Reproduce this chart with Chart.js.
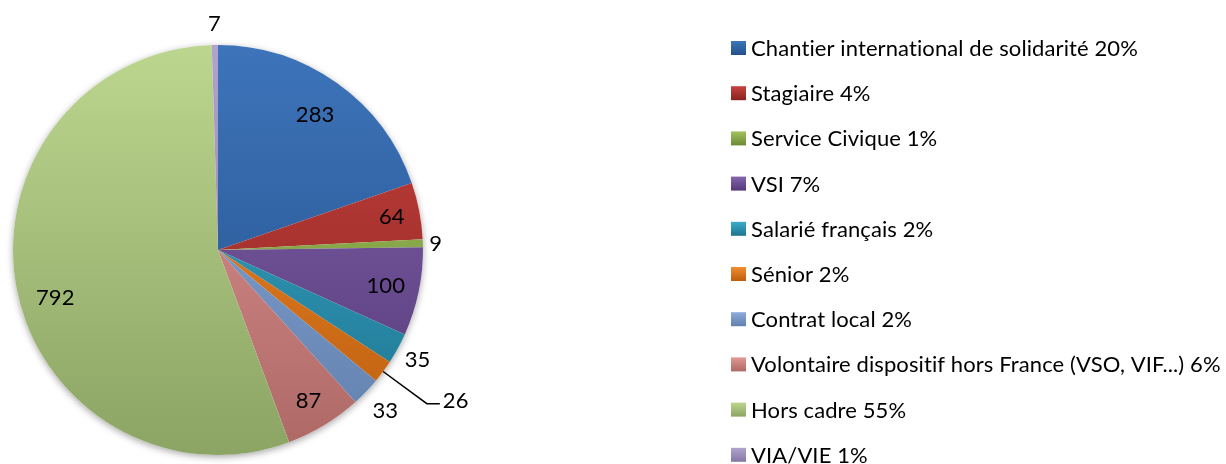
<!DOCTYPE html>
<html>
<head>
<meta charset="utf-8">
<script src="https://cdn.jsdelivr.net/npm/chart.js@4/dist/chart.umd.min.js"></script>
<style>
  html, body { margin: 0; padding: 0; background: #fff; }
  #wrap { position: relative; width: 1226px; height: 464px; }
</style>
</head>
<body>
<div id="wrap"><canvas id="pie" width="1226" height="464"></canvas></div>
<script>
  // Données
  const categories = [
    'Chantier international de solidarité',
    'Stagiaire',
    'Service Civique',
    'VSI',
    'Salarié français',
    'Sénior',
    'Contrat local',
    'Volontaire dispositif hors France (VSO, VIF...)',
    'Hors cadre',
    'VIA/VIE'
  ];
  const counts = [283, 64, 9, 100, 35, 26, 33, 87, 792, 7];
  const shares = ['20%', '4%', '1%', '7%', '2%', '2%', '2%', '6%', '55%', '1%'];

  // Couleurs (haut -> bas du dégradé)
  const colorTop = ['#3d74ba', '#c9423e', '#a2c35e', '#8466ad', '#3aaccb', '#f28d31', '#8fabdc', '#e39895', '#bcd68f', '#b0a4cf'];
  const colorBottom = ['#24508a', '#86231f', '#6c8a33', '#533878', '#1e7490', '#bd5d0c', '#6080ad', '#ad6866', '#8ca464', '#8776a6'];

  // Placement des étiquettes (fraction du rayon), 26 avec ligne de rappel
  const labelRadius = [0.816, 0.864, 1.063, 0.836, 1.11, 1.0, 1.13, 0.853, 0.826, 1.107];
  const labelNudge = [0, 0, 0, 0, 0, 0, 0, 0, -5, 0];
  const leaderIndex = 5;

  const FONT = '22px Lato, "Open Sans", sans-serif';
  const gradCache = {};

  function sliceColor(ctx) {
    const chart = ctx.chart;
    const area = chart.chartArea;
    const i = ctx.dataIndex;
    if (!area) return colorTop[i];
    const key = i + ':' + area.top + ':' + area.bottom;
    if (!gradCache[key]) {
      const g = chart.ctx.createLinearGradient(0, area.top, 0, area.bottom);
      g.addColorStop(0, colorTop[i]);
      g.addColorStop(1, colorBottom[i]);
      gradCache[key] = g;
    }
    return gradCache[key];
  }

  // petit espacement : évite les ligatures de Lato ("ti", "fi")
  function setFont(c) {
    c.font = FONT;
    if ('letterSpacing' in c) c.letterSpacing = '0.1px';
  }

  const shadowPlugin = {
    id: 'pieShadow',
    beforeDatasetsDraw(chart) {
      const arc = chart.getDatasetMeta(0).data[0];
      if (!arc) return;
      const c = chart.ctx;
      c.save();
      c.shadowColor = 'rgba(0,0,0,0.35)';
      c.shadowBlur = 7;
      c.shadowOffsetY = 2;
      c.fillStyle = '#fff';
      c.beginPath();
      c.arc(arc.x, arc.y, arc.outerRadius, 0, Math.PI * 2);
      c.fill();
      c.restore();
    }
  };

  const labelPlugin = {
    id: 'pieLabels',
    afterDatasetsDraw(chart) {
      const c = chart.ctx;
      const arcs = chart.getDatasetMeta(0).data;
      c.save();
      setFont(c);
      c.fillStyle = '#000';
      c.textBaseline = 'alphabetic';
      arcs.forEach((arc, i) => {
        const mid = (arc.startAngle + arc.endAngle) / 2 + labelNudge[i] * Math.PI / 180;
        const R = arc.outerRadius;
        if (i === leaderIndex) {
          const x0 = arc.x + Math.cos(mid) * R;
          const y0 = arc.y + Math.sin(mid) * R;
          const x1 = arc.x + Math.cos(mid) * R * 1.265;
          const y1 = arc.y + Math.sin(mid) * R * 1.265;
          c.strokeStyle = '#000';
          c.lineWidth = 1.5;
          c.beginPath();
          c.moveTo(x0, y0);
          c.lineTo(x1, y1);
          c.lineTo(x1 + 13, y1);
          c.stroke();
          c.textAlign = 'left';
          c.fillText(String(counts[i]), x1 + 16, y1 + 4);
          return;
        }
        const x = arc.x + Math.cos(mid) * R * labelRadius[i];
        const y = arc.y + Math.sin(mid) * R * labelRadius[i];
        c.textAlign = 'center';
        c.fillText(String(counts[i]), x, y + 8);
      });
      c.restore();
    }
  };

  const legendPlugin = {
    id: 'sideLegend',
    afterDraw(chart) {
      const c = chart.ctx;
      c.save();
      setFont(c);
      c.textAlign = 'left';
      c.textBaseline = 'alphabetic';
      categories.forEach((name, i) => {
        const cy = 48 + i * 45.2;
        const g = c.createLinearGradient(0, cy - 7, 0, cy + 7);
        g.addColorStop(0, colorTop[i]);
        g.addColorStop(1, colorBottom[i]);
        c.fillStyle = g;
        c.fillRect(731, cy - 7, 15, 14);
        c.fillStyle = '#000';
        c.fillText(name + ' ' + shares[i], 751, cy + 8);
      });
      c.restore();
    }
  };

  new Chart(document.getElementById('pie'), {
    type: 'pie',
    data: {
      labels: categories,
      datasets: [{
        data: counts,
        backgroundColor: sliceColor,
        borderWidth: 0
      }]
    },
    options: {
      responsive: false,
      animation: false,
      events: [],
      layout: { padding: { left: 13, top: 45, right: 803, bottom: 9 } },
      plugins: {
        legend: { display: false },
        tooltip: { enabled: false }
      }
    },
    plugins: [shadowPlugin, labelPlugin, legendPlugin]
  });
</script>
</body>
</html>
